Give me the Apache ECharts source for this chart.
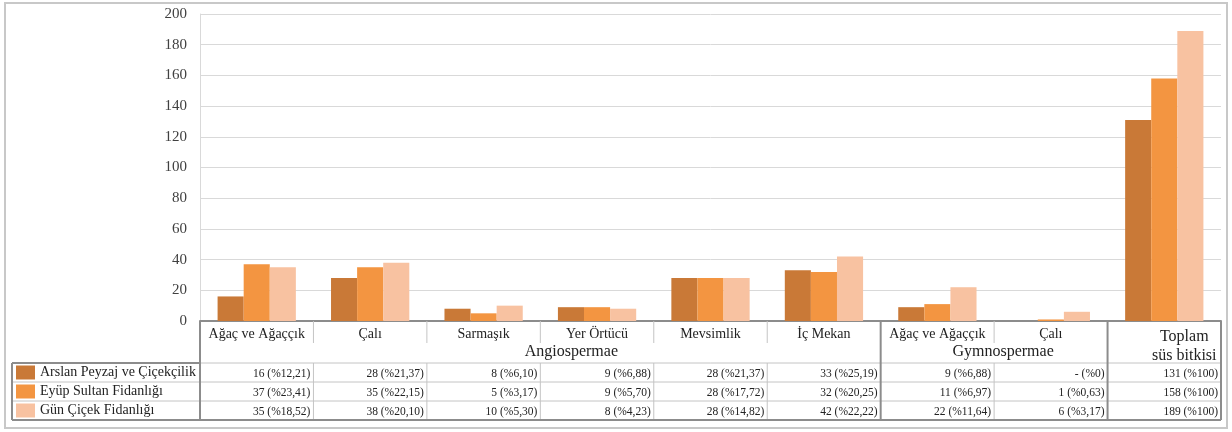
<!DOCTYPE html>
<html><head><meta charset="utf-8">
<script src="https://cdn.jsdelivr.net/npm/echarts@6/dist/echarts.min.js"></script>
<style>html,body{margin:0;padding:0;background:#fff}#c{width:1232px;height:432px}</style>
</head><body><div id="c"></div>
<script>
// ---- data ----
const categories = ['Ağaç ve Ağaççık','Çalı','Sarmaşık','Yer Örtücü','Mevsimlik','İç Mekan','Ağaç ve Ağaççık','Çalı','Toplam süs bitkisi'];
const seriesNames = ['Arslan Peyzaj ve Çiçekçilik','Eyüp Sultan Fidanlığı','Gün Çiçek Fidanlığı'];
const arslan = [16,28,8,9,28,33,9,0,131];
const eyup   = [37,35,5,9,28,32,11,1,158];
const gun    = [35,38,10,8,28,42,22,6,189];
const arslanPct = ['12,21','21,37','6,10','6,88','21,37','25,19','6,88','0','100'];
const eyupPct   = ['23,41','22,15','3,17','5,70','17,72','20,25','6,97','0,63','100'];
const gunPct    = ['18,52','20,10','5,30','4,23','14,82','22,22','11,64','3,17','100'];
const groupNames = ['Angiospermae','Gymnospermae'];
const groupFirst = [0,6];
const groupLast  = [5,7];
const yMin = 0, yMax = 200, yStep = 20;

// ---- style ----
const FONT = 'Liberation Serif';
const colors = ['#C97937','#F39541','#F8C2A1'];
const groupLabelShift = [31, 9];

const values = [arslan, eyup, gun];
const pcts = [arslanPct, eyupPct, gunPct];

const chart = echarts.init(document.getElementById('c'), null, {renderer:'canvas'});
chart.setOption({
  animation:false,
  color: colors,
  grid:{left:200,right:11,top:14,bottom:111},
  legend:{orient:'vertical', left:16, top:365.5, padding:0, itemWidth:19, itemHeight:14, itemGap:5, icon:'rect',
    selectedMode:false, textStyle:{fontFamily:FONT,fontSize:14,lineHeight:14,color:'#222'}, data:seriesNames},
  xAxis:{type:'category', data:categories, axisTick:{show:false},
    axisLine:{lineStyle:{color:'#8c8c8c',width:2}},
    axisLabel:{interval:0, margin:6, fontFamily:FONT, fontSize:14, color:'#222',
      formatter:(v,i)=> i===categories.length-1 ? '{t|Toplam}\n{t|süs bitkisi}' : v,
      rich:{t:{fontFamily:FONT,fontSize:16,lineHeight:19,color:'#222',padding:[0,0,0,40]}}}},
  yAxis:{type:'value', min:yMin, max:yMax, interval:yStep,
    axisLine:{show:true, lineStyle:{color:'#d9d9d9'}},
    axisLabel:{margin:13, fontFamily:FONT, fontSize:15, color:'#404040'},
    splitLine:{lineStyle:{color:'#d9d9d9'}}},
  series: seriesNames.map((n,i)=>({type:'bar', name:n, data:values[i], barGap:'0%', barCategoryGap:'31%'}))
});

// ---- data table built from the axis scale ----
const c0 = chart.convertToPixel({xAxisIndex:0}, 0);
const c1 = chart.convertToPixel({xAxisIndex:0}, 1);
const band = c1 - c0;
const leftEdge = c0 - band/2;
const edge = k => leftEdge + k*band;
const axisY = chart.convertToPixel({yAxisIndex:0}, 0);
const rowTop = axisY + 42, rowH = 19;
const tableBottom = rowTop + 3*rowH;
const legendLeft = 12;
const n = categories.length;
const els = [];
const line = (x1,y1,x2,y2,stroke,w)=>els.push({type:'line',silent:true,z:10,shape:{x1,y1,x2,y2},style:{stroke,lineWidth:w}});
const thin = '#c4c4c4', thick = '#8c8c8c';
els.push({type:'rect',silent:true,z:0,shape:{x:5,y:3,width:1222,height:425},style:{fill:null,stroke:'#c8c8c8',lineWidth:2}});
const groupEdges = new Set([0, groupLast[0]+1, groupLast[1]+1, n]);
for (let k=1;k<n;k++){
  if (groupEdges.has(k)) continue;
  line(edge(k),axisY,edge(k),axisY+22,thin,1);
  line(edge(k),rowTop,edge(k),tableBottom,thin,1);
}
for (let r=0;r<=3;r++){
  const y = rowTop + r*rowH;
  const col = (r===0||r===3)? thick : thin;
  line(legendLeft,y,edge(0),y,col,(r===0||r===3)?2:1);
  line(edge(0),y,edge(n),y,r===3?thick:thin,r===3?2:1);
}
groupEdges.forEach(k=>line(edge(k),axisY,edge(k),tableBottom,thick,2));
line(legendLeft,rowTop,legendLeft,tableBottom,thick,2);
for (let s=0;s<3;s++){
  for (let k=0;k<n;k++){
    const v = values[s][k];
    els.push({type:'text',silent:true,z:11,style:{text:(v===0?'-':v)+' (%'+pcts[s][k]+')',
      x:edge(k+1)-3, y:rowTop+s*rowH+rowH/2+1, textAlign:'right', textVerticalAlign:'middle',
      font:'11.5px "'+FONT+'"', fill:'#222'}});
  }
}
groupNames.forEach((g,i)=>{
  els.push({type:'text',silent:true,z:11,style:{text:g,
    x:(edge(groupFirst[i])+edge(groupLast[i]+1))/2+groupLabelShift[i], y:axisY+31,
    textAlign:'center', textVerticalAlign:'middle', font:'16px "'+FONT+'"', fill:'#222'}});
});
chart.setOption({graphic:{elements:els}});
</script>
</body></html>
